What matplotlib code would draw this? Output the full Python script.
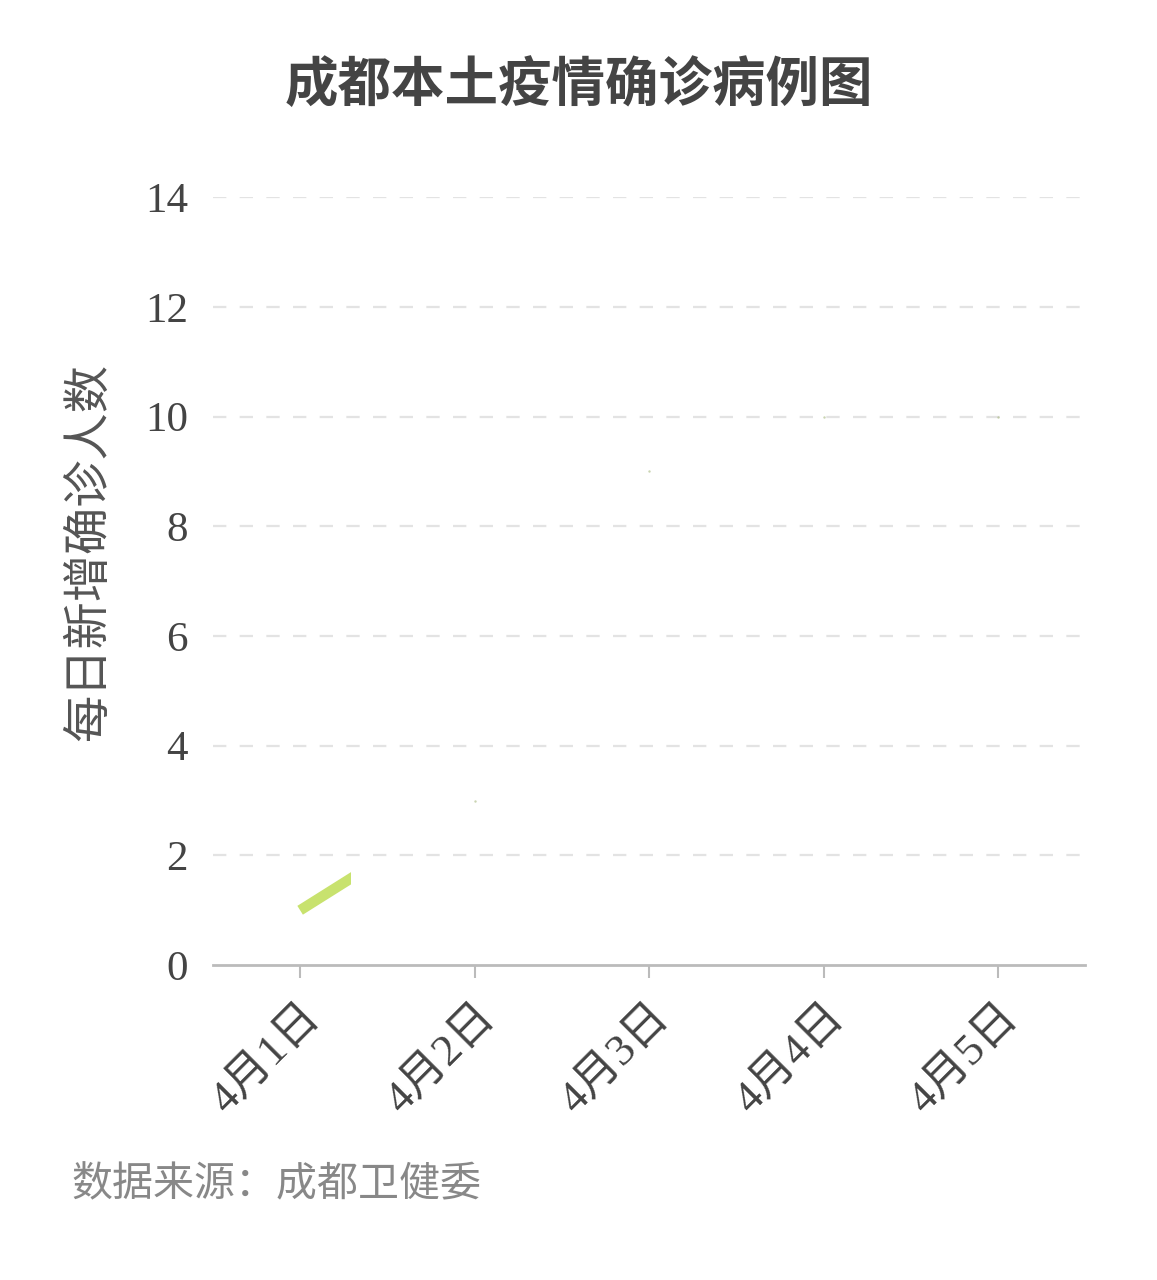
import matplotlib
matplotlib.use('Agg')
import matplotlib.pyplot as plt
from matplotlib.patches import Rectangle

# data
days = ['4月1日', '4月2日', '4月3日', '4月4日', '4月5日']
cases = [1, 3, 9, 10, 10]
yticks = [0, 2, 4, 6, 8, 10, 12, 14]
drawn_upto = 1.29  # line is only partly drawn (animation frame)

cjk = ['Noto Sans CJK SC', 'DejaVu Sans']
serif = ['Liberation Serif', 'Noto Sans CJK SC']

fig = plt.figure(figsize=(11.57, 12.8), dpi=100)
ax = fig.add_axes([0.184, 0.246, 0.754, 0.6])

x = list(range(1, len(days) + 1))
line, = ax.plot(x, cases, color='#c8e26e', lw=7.5, solid_capstyle='butt', zorder=3)
clip = Rectangle((0, -1), drawn_upto, 20, transform=ax.transData)
line.set_clip_path(clip)
ax.scatter(x[1:], cases[1:], s=3, color='#a8b880', alpha=0.6, zorder=3, lw=0)

ax.set_xlim(0.5, 5.5)
ax.set_ylim(0, 14)
ax.set_yticks(yticks)
ax.set_xticks(x)
ax.set_xticklabels(days, rotation=45, ha='right', va='top', rotation_mode='anchor',
                   family=serif, fontsize=32.5, color='#444444')
for t in ax.get_yticklabels():
    t.set_family(serif)
ax.tick_params(axis='y', length=0, pad=18, labelsize=31, labelcolor='#444444')
ax.tick_params(axis='x', length=9, width=1.5, color='#bbbbbb', pad=14)

for s in ['top', 'right', 'left']:
    ax.spines[s].set_visible(False)
ax.spines['bottom'].set_color('#bbbbbb')
ax.spines['bottom'].set_linewidth(2)

for v in yticks[1:]:
    ax.axhline(v, color='#e3e3e3', lw=1.6, dashes=(6, 6), zorder=1)

ax.set_ylabel('每日新增确诊人数', family=cjk, fontsize=34, color='#555555')
ax.yaxis.set_label_coords(-0.115, 0.538)

fig.text(0.5, 0.933, '成都本土疫情确诊病例图', ha='center', va='center',
         family=cjk, fontsize=38.5, fontweight='bold', color='#444444')
fig.text(0.062, 0.074, '数据来源：成都卫健委', ha='left', va='center',
         family=cjk, fontsize=29.5, color='#888888')

plt.savefig('out.png', dpi=100, facecolor='white')
